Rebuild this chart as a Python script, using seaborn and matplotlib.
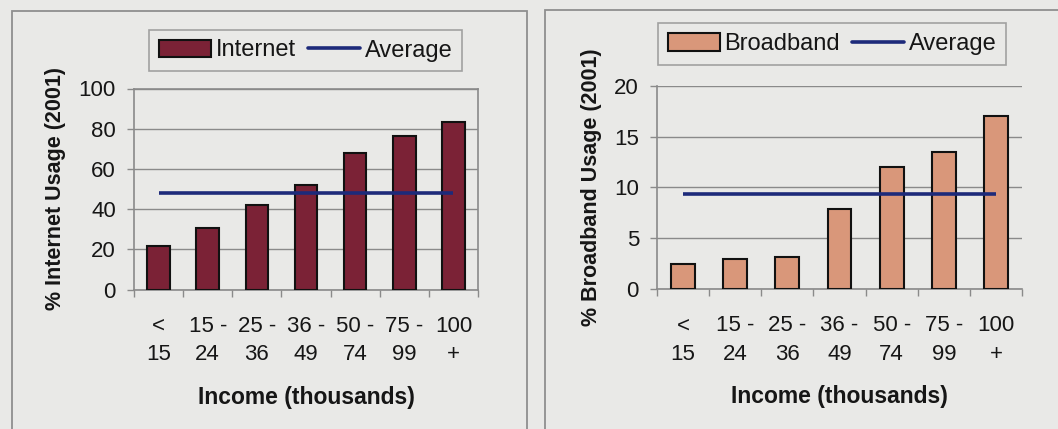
import numpy as np
import pandas as pd
import matplotlib
matplotlib.use("Agg")
import matplotlib.pyplot as plt
from matplotlib.patches import Rectangle
import seaborn as sns

# Income brackets (thousands of dollars)
income_labels = ["<\n15", "15 -\n24", "25 -\n36", "36 -\n49", "50 -\n74", "75 -\n99", "100\n+"]

# Share of households using each service in 2001, by income bracket
internet_usage = [21.5, 30.7, 41.9, 52.0, 68.1, 76.3, 83.1]
internet_average = 47.8
broadband_usage = [2.5, 3.0, 3.2, 7.9, 12.0, 13.5, 17.0]
broadband_average = 9.4

internet_ticks = [0, 20, 40, 60, 80, 100]
broadband_ticks = [0, 5, 10, 15, 20]

BG = "#e9e9e7"
GRID = "#8a8a8a"
TEXT = "#161616"
NAVY = "#1d2a7a"

sns.set_theme(style="white")
plt.rcParams["font.family"] = ["Liberation Sans", "DejaVu Sans"]
plt.rcParams["text.color"] = TEXT

W, H = 1058, 429
fig = plt.figure(figsize=(W / 100, H / 100), dpi=100, facecolor=BG)


def fig_rect(x0, y0, x1, y1):
    """Pixel box (top-left origin) to figure-fraction rect."""
    return [x0 / W, 1 - y1 / H, (x1 - x0) / W, (y1 - y0) / H]


# Outer chart borders
fig.add_artist(Rectangle((11.5 / W, -0.1), (526.5 - 11.5) / W, 1.1 - 11 / H,
                         transform=fig.transFigure, fill=False,
                         edgecolor="#8f8f8f", lw=1.3))
fig.add_artist(Rectangle((545 / W, -0.1), 0.5, 1.1 - 10 / H,
                         transform=fig.transFigure, fill=False,
                         edgecolor="#8f8f8f", lw=1.3))


def draw_panel(rect, values, average, ticks, bar_color, ylabel, series_name,
               frame, legend_center):
    ax = fig.add_axes(rect)
    ax.set_facecolor(BG)
    df = pd.DataFrame({"income": income_labels, "usage": values})
    sns.barplot(data=df, x="income", y="usage", color=bar_color,
                saturation=1, width=0.46, edgecolor="#111111", linewidth=1.5,
                ax=ax, zorder=3)
    pos = np.arange(len(income_labels))
    ax.plot(pos, np.full(len(pos), average), color=NAVY, lw=2.6,
            solid_capstyle="butt", zorder=4)

    ax.set_xlim(-0.5, len(income_labels) - 0.5)
    ax.set_ylim(ticks[0], ticks[-1])
    ax.set_yticks(ticks)
    ax.set_yticklabels([str(t) for t in ticks])
    ax.yaxis.grid(True, color=GRID, lw=1.0, zorder=0)
    ax.set_axisbelow(True)

    # category boundary ticks along the x axis
    ax.set_xticks(np.arange(-0.5, len(income_labels)), minor=True)
    ax.tick_params(axis="x", which="minor", length=5, width=1, color=GRID,
                   direction="out", bottom=True)
    ax.tick_params(axis="x", which="major", length=0, pad=19,
                   labelsize=16, labelcolor=TEXT)
    for lbl in ax.get_xticklabels():
        lbl.set_linespacing(1.45)
    ax.tick_params(axis="y", length=5, width=1, color=GRID, direction="out",
                   left=True, pad=8, labelsize=16, labelcolor=TEXT)

    for side in ("left", "bottom"):
        ax.spines[side].set_color(GRID)
        ax.spines[side].set_linewidth(1.2)
    for side in ("top", "right"):
        ax.spines[side].set_visible(frame)
        ax.spines[side].set_color(GRID)
        ax.spines[side].set_linewidth(1.2)

    ax.set_xlabel("Income (thousands)", fontsize=16.5, fontweight="bold",
                  labelpad=15, color=TEXT)
    ax.set_ylabel(ylabel, fontsize=15.5, fontweight="bold", labelpad=9,
                  color=TEXT)

    handles = [Rectangle((0, 0), 1, 1, facecolor=bar_color,
                         edgecolor="#111111", lw=1.5),
               plt.Line2D([], [], color=NAVY, lw=2.6)]
    leg = fig.legend(handles, [series_name, "Average"], ncol=2,
                     loc="center",
                     bbox_to_anchor=(legend_center[0] / W, 1 - legend_center[1] / H),
                     bbox_transform=fig.transFigure,
                     fontsize=17, frameon=True, fancybox=False,
                     handlelength=2.2, handleheight=0.75, handletextpad=0.2,
                     columnspacing=0.5, borderpad=0.42, borderaxespad=0)
    leg.get_frame().set_facecolor(BG)
    leg.get_frame().set_edgecolor("#8f8f8f")
    leg.get_frame().set_linewidth(1.2)
    for t in leg.get_texts():
        t.set_color(TEXT)
    return ax


draw_panel(fig_rect(134, 88.5, 478, 289.5), internet_usage, internet_average,
           internet_ticks, "#7b2236", "% Internet Usage (2001)", "Internet",
           True, (305.7, 50.5))
draw_panel(fig_rect(657, 86, 1022, 289), broadband_usage, broadband_average,
           broadband_ticks, "#d9977a", "% Broadband Usage (2001)", "Broadband",
           False, (832, 44.2))

fig.savefig("out.png", dpi=100, facecolor=BG)
